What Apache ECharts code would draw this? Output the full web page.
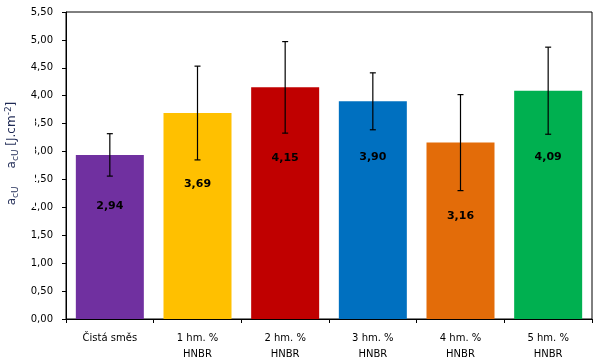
<!DOCTYPE html>
<html>
<head>
<meta charset="utf-8">
<script src="https://cdn.jsdelivr.net/npm/echarts@6/dist/echarts.min.js"></script>
<style>html,body{margin:0;padding:0;background:#fff}#c{width:601px;height:364px}</style>
</head>
<body>
<div id="c"></div>
<script>
const categories = ['Čistá směs', '1 hm. %\nHNBR', '2 hm. %\nHNBR', '3 hm. %\nHNBR', '4 hm. %\nHNBR', '5 hm. %\nHNBR'];
const values = [2.94, 3.69, 4.15, 3.90, 3.16, 4.09];
const errors = [0.38, 0.84, 0.82, 0.51, 0.86, 0.78];
const colors = ['#7030A0', '#FFC000', '#C00000', '#0070C0', '#E36C09', '#00B050'];
const labelDist = [46, 66, 65, 50, 68, 61];
const yTicks = { min: 0, max: 5.5, interval: 0.5 };

const fmt = v => v.toFixed(2).replace('.', ',');
const FONT = 'DejaVu Sans';

const chart = echarts.init(document.getElementById('c'), null, { renderer: 'canvas' });
chart.setOption({
  animation: false,
  grid: { left: 66, right: 9, top: 12, bottom: 45, show: true, borderColor: '#000', borderWidth: 1, backgroundColor: 'transparent', containLabel: false, outerBoundsMode: 'none' },
  xAxis: {
    type: 'category',
    data: categories,
    axisLine: { lineStyle: { color: '#000', width: 1 } },
    axisTick: { show: true, length: 4, lineStyle: { color: '#000' } },
    axisLabel: { color: '#000', fontFamily: FONT, fontSize: 10, lineHeight: 16, margin: 11, interval: 0 }
  },
  yAxis: {
    type: 'value',
    min: yTicks.min, max: yTicks.max, interval: yTicks.interval,
    axisLine: { show: true, lineStyle: { color: '#000', width: 1 } },
    axisTick: { show: true, length: 4, lineStyle: { color: '#000' } },
    splitLine: { show: false },
    axisLabel: { color: '#000', fontFamily: FONT, fontSize: 10, margin: 13, formatter: v => fmt(v) },
    name: '{m|a}{s|cU}{g| }{m|a}{s|cU}{m| [J.cm}{p|-2}{m|]}',
    nameLocation: 'middle',
    nameGap: 41,
    nameTextStyle: {
      padding: [0, 0, 0, 24],
      rich: {
        m: { fontFamily: FONT, fontSize: 12, color: '#1f2a55', lineHeight: 16, verticalAlign: 'middle' },
        s: { fontFamily: FONT, fontSize: 9, color: '#1f2a55', lineHeight: 16, verticalAlign: 'bottom' },
        p: { fontFamily: FONT, fontSize: 9, color: '#1f2a55', lineHeight: 16, verticalAlign: 'top' },
        g: { fontSize: 12, width: 18, lineHeight: 16 }
      }
    }
  },
  graphic: [{
    type: 'rect', z: 100, zlevel: 0, silent: true,
    shape: { x: 26, y: 105, width: 9, height: 102 },
    style: { fill: '#fff' }
  }],
  series: [{
    type: 'bar',
    barWidth: 68,
    data: values.map((v, i) => ({
      value: v,
      itemStyle: { color: colors[i] },
      label: { distance: labelDist[i] }
    })),
    label: {
      show: true, position: 'insideTop',
      fontFamily: FONT, fontWeight: 'bold', fontSize: 11, color: '#000',
      formatter: p => fmt(p.value)
    },
    z: 2
  }, {
    type: 'custom',
    z: 5,
    data: values.map((v, i) => [i, v, errors[i]]),
    renderItem: (params, api) => {
      const i = api.value(0), v = api.value(1), e = api.value(2);
      const top = api.coord([i, v + e]);
      const bot = api.coord([i, v - e]);
      const hw = 3;
      const st = { stroke: '#000', lineWidth: 1.2 };
      return {
        type: 'group',
        children: [
          { type: 'line', shape: { x1: top[0], y1: top[1], x2: bot[0], y2: bot[1] }, style: st },
          { type: 'line', shape: { x1: top[0] - hw, y1: top[1], x2: top[0] + hw, y2: top[1] }, style: st },
          { type: 'line', shape: { x1: bot[0] - hw, y1: bot[1], x2: bot[0] + hw, y2: bot[1] }, style: st }
        ]
      };
    }
  }]
});
</script>
</body>
</html>
